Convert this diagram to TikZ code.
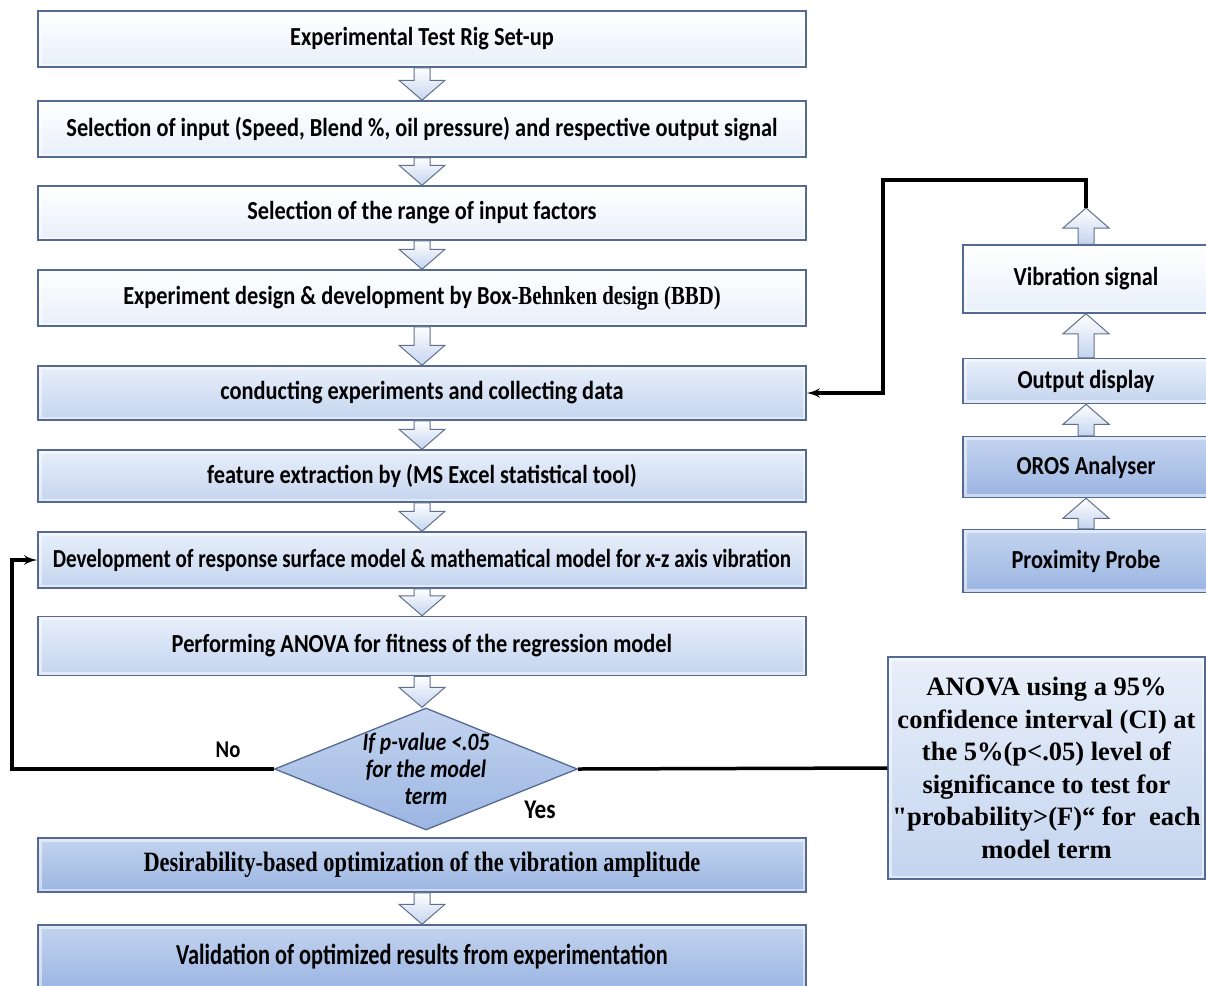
\documentclass[tikz,border=0pt]{standalone}
\usepackage{fontspec}
\newfontfamily\boxfont{Carlito}[FakeStretch=0.86]
\newfontfamily\tightfont{Carlito}[FakeStretch=0.81]
\newfontfamily\narrowfont{Carlito}[FakeStretch=0.77]
\newfontfamily\serfont{Liberation Serif}
\newfontfamily\condserif{Liberation Serif}[FakeStretch=0.8]
\usepackage{tikz}
\usetikzlibrary{calc,arrows,positioning,shapes.geometric}

\definecolor{edge}{RGB}{84,106,146}
\definecolor{paleblue}{RGB}{232,239,250}
\definecolor{midblue}{RGB}{196,212,239}
\definecolor{deepblue}{RGB}{155,181,226}
\definecolor{arrowedge}{RGB}{96,112,140}

\begin{document}
\begin{tikzpicture}[x=1pt,y=-1pt]
    \tikzset{
      bevel/.style={path picture={\draw[white,opacity=0.5,line width=7pt]
        (path picture bounding box.south west) rectangle (path picture bounding box.north east);}},
      box/.style={draw=edge, line width=1.5pt, minimum width=768pt, minimum height=56pt,
        inner sep=0pt, font=\boxfont\bfseries\fontsize{26}{30}\selectfont, bevel},
      sidebox/.style={box, minimum width=246pt},
      pale/.style={top color=white, bottom color=paleblue},
      mid/.style={top color=paleblue, bottom color=midblue},
      deep/.style={top color=midblue, bottom color=deepblue},
      decision/.style={diamond, draw=edge, line width=1.3pt, inner sep=0pt,
        minimum width=303pt, minimum height=122pt, top color=midblue, bottom color=deepblue},
      decisiontext/.style={align=center, inner sep=0pt,
        font=\boxfont\bfseries\itshape\fontsize{25}{27}\selectfont},
      lbl/.style={font=\boxfont\bfseries\fontsize{24}{28}\selectfont},
      blkdn/.style={draw=arrowedge, line width=1pt, top color=white, bottom color=midblue,
        to path={let \p1=(\tikztostart), \p2=(\tikztotarget) in
          ({\x1-8pt},\y1) -- ({\x1-8pt},{\y2+20pt}) -- ({\x1-23pt},{\y2+20pt}) -- (\x1,\y2)
          -- ({\x1+23pt},{\y2+20pt}) -- ({\x1+8pt},{\y2+20pt}) -- ({\x1+8pt},\y1) -- cycle}},
      blkup/.style={draw=arrowedge, line width=1pt, top color=white, bottom color=midblue,
        to path={let \p1=(\tikztostart), \p2=(\tikztotarget) in
          ({\x1-8pt},\y1) -- ({\x1-8pt},{\y2-20pt}) -- ({\x1-23pt},{\y2-20pt}) -- (\x1,\y2)
          -- ({\x1+23pt},{\y2-20pt}) -- ({\x1+8pt},{\y2-20pt}) -- ({\x1+8pt},\y1) -- cycle}},
      fb/.style={line width=3.5pt, -latex'},
      wire/.style={line width=3.5pt},
    }
    \useasboundingbox (0,0) rectangle (1206,985);

    % main flow
    \node[box,pale] (rig) at (422,39) {Experimental Test Rig Set-up};
    \node[box,pale] (inputs) at (422,129) {Selection of input (Speed, Blend \%, oil pressure) and respective output signal};
    \node[box,pale,minimum height=54pt] (range) at (422,213) {Selection of the range of input factors};
    \node[box,pale] (design) at (422,298) {Experiment design \& development by Box{\condserif-Behnken design (BBD)}};
    \node[box,mid,minimum height=54pt] (conduct) at (422,393) {conducting experiments and collecting data};
    \node[box,mid,minimum height=52pt] (extract) at (422,476) {feature extraction by (MS Excel statistical tool)};
    \node[box,mid,font=\tightfont\bfseries\fontsize{26}{30}\selectfont] (develop) at (422,560) {Development of response surface model \& mathematical model for x-z axis vibration};
    \node[box,mid,minimum height=59pt] (regress) at (422,646) {Performing ANOVA for fitness of the regression model};
    \node[decision,label={[decisiontext]center:If p-value <.05\\for the model\\term}] (pvalue) at (426,769) {};
    \node[box,deep,minimum height=54pt,font=\condserif\bfseries\fontsize{28}{30}\selectfont] (desir) at (422,865) {Desirability-based optimization of the vibration amplitude};
    \node[box,deep,minimum height=64pt,font=\narrowfont\bfseries\fontsize{29}{30}\selectfont] (valid) at (422,957) {Validation of optimized results from experimentation};

    % measurement chain
    \node[sidebox,pale,minimum height=68pt] (vibsig) at (1086,279) {Vibration signal};
    \node[sidebox,mid,minimum height=45pt] (display) at (1086,381) {Output display};
    \node[sidebox,deep,minimum height=61pt] (oros) at (1086,467) {OROS Analyser};
    \node[sidebox,deep,minimum height=63pt] (probe) at (1086,561) {Proximity Probe};

    \node[draw=edge, line width=1.5pt, mid, bevel, minimum width=317pt, minimum height=222pt,
      align=center, inner sep=0pt,
      font=\serfont\bfseries\fontsize{26.5}{32.5}\selectfont] (civ) at (1046.5,768)
      {ANOVA using a 95\%\\ confidence interval (CI) at\\ the 5\%(p<.05) level of\\
       significance to test for\\ "probability>(F)“ for~ each\\ model term};

    \node[lbl] (no) at (228,750) {No};
    \node[lbl,font=\boxfont\bfseries\fontsize{27}{30}\selectfont] (yes) at (540,810) {Yes};

    \coordinate (vibtip) at (1086,208);
    \coordinate (topturn) at (883,180);
    \coordinate (leftturn) at (12,769);

    \draw[blkdn] (rig.south) to (inputs.north);
    \draw[blkdn] (inputs.south) to (range.north);
    \draw[blkdn] (range.south) to (design.north);
    \draw[blkdn] (design.south) to (conduct.north);
    \draw[blkdn] (conduct.south) to (extract.north);
    \draw[blkdn] (extract.south) to (develop.north);
    \draw[blkdn] (develop.south) to (regress.north);
    \draw[blkdn] (regress.south) to (pvalue.north);
    \draw[blkdn] (desir.south) to (valid.north);

    \draw[blkup] (probe.north) to (oros.south);
    \draw[blkup] (oros.north) to (display.south);
    \draw[blkup] (display.north) to (vibsig.south);
    \draw[blkup] (vibsig.north) to (vibtip);

    \draw[fb] (vibtip) |- (topturn) |- (conduct.east);
    \draw[fb] (pvalue.west) -- (leftturn) |- (develop.west);
    \draw[wire] (pvalue.east) -- (civ.west);
\end{tikzpicture}
\end{document}
